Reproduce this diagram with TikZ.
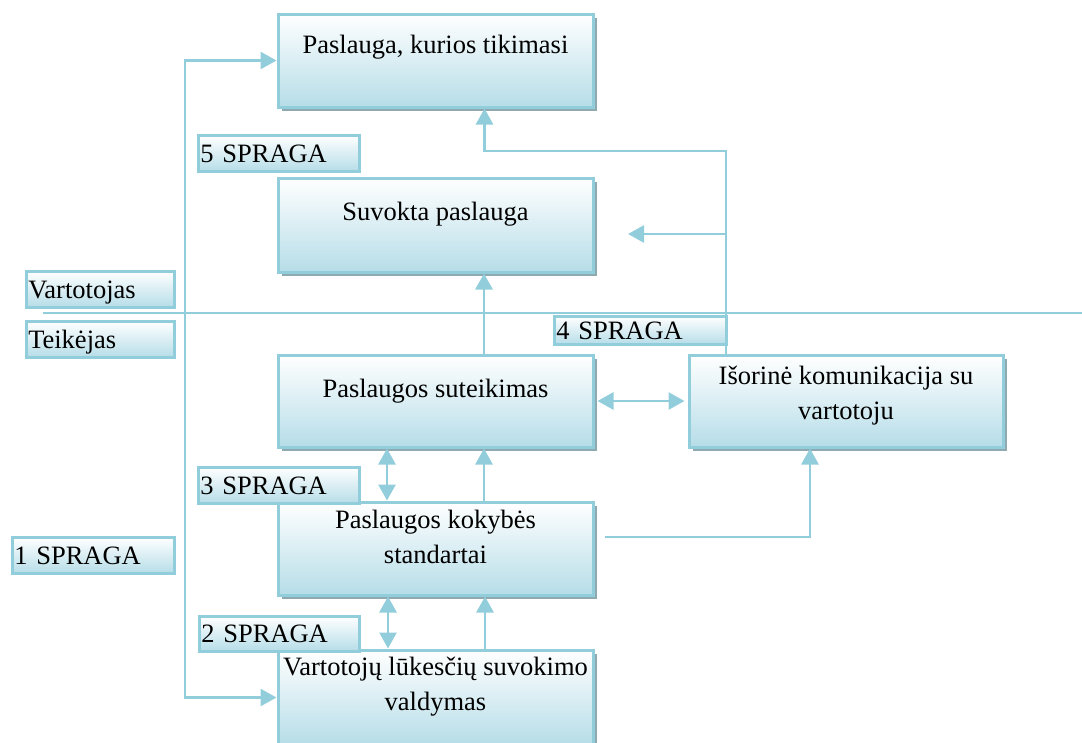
\documentclass[tikz,border=0pt]{standalone}
\usepackage{fontspec}
\setmainfont{Liberation Serif}
\usetikzlibrary{arrows.meta,shadows}
\definecolor{lineblue}{HTML}{92CDDC}
\definecolor{fillblue}{HTML}{B6DDE8}
\definecolor{shadowgray}{HTML}{8FA9B0}
\tikzset{
  mainbox/.style={draw=lineblue, line width=3pt, top color=white, bottom color=fillblue,
    minimum width=315pt, minimum height=93pt, inner sep=0pt,
    drop shadow={shadow xshift=4pt, shadow yshift=-4pt, fill=shadowgray, opacity=1}},
  boxtext/.style={anchor=base, inner sep=0pt, align=center,
    font=\fontsize{26.5pt}{35pt}\selectfont},
  lbl/.style={draw=lineblue, line width=2.5pt, top color=white, bottom color=fillblue,
    anchor=north west, inner xsep=2pt, inner ysep=0pt, align=left,
    text height=17.5pt, text depth=0pt, font=\fontsize{26.5pt}{35pt}\selectfont},
  conn/.style={draw=lineblue, line width=2.8pt},
  arr/.style={conn, -{Triangle[length=16pt,width=17pt]}},
  dbl/.style={conn, {Triangle[length=16pt,width=17pt]}-{Triangle[length=16pt,width=17pt]}}
}
\begin{document}
\begin{tikzpicture}[x=1pt,y=-1pt]
\useasboundingbox (0,0) rectangle (1082,742);
\clip (0,0) rectangle (1082,742);

% main boxes
\node[mainbox] (b1) at (435.5,60.5) {};
\node[mainbox, minimum height=94pt] (b2) at (435.5,225) {};
\node[mainbox, minimum height=92pt] (b3) at (435.5,401) {};
\node[mainbox, minimum width=314pt, minimum height=92pt] (b4) at (846,401) {};
\node[mainbox] (b5) at (435.5,548.5) {};
\node[mainbox, minimum height=95pt] (b6) at (435.5,697.5) {};

\node[boxtext] (t1) at (435.5,53) {Paslauga, kurios tikimasi};
\node[boxtext] (t2) at (435.5,220) {Suvokta paslauga};
\node[boxtext] (t3) at (435.5,397) {Paslaugos suteikimas};
\node[boxtext] (t4) at (846,419) {Išorinė komunikacija su\\vartotoju};
\node[boxtext] (t5) at (435.5,563) {Paslaugos kokybės\\standartai};
\node[boxtext] (t6) at (435.5,710) {Vartotojų lūkesčių suvokimo\\valdymas};

% label boxes
\node[lbl, minimum height=36pt, text width=144pt] (lv) at (25,270) {Vartotojas};
\node[lbl, minimum height=36pt, text width=144pt] (lt) at (25,320) {Teikėjas};
\node[lbl, minimum height=36pt, text width=157pt] (g5) at (197,134) {5 SPRAGA};
\node[lbl, minimum height=28pt, text width=168pt] (g4) at (553,315) {4 SPRAGA};
\node[lbl, minimum height=36pt, text width=157pt] (g3) at (197,466) {3 SPRAGA};
\node[lbl, minimum height=36pt, text width=158pt] (g1) at (11,536) {1 SPRAGA};
\node[lbl, minimum height=35pt, text width=156pt] (g2) at (198,615) {2 SPRAGA};

% coordinates
\coordinate (L) at (185,0);
\coordinate (H1) at (43,313);
\coordinate (H2) at (1082,313);
\coordinate (J1) at (726,151);
\coordinate (J2) at (726,234);
\coordinate (S2) at (628,234);
\coordinate (K1) at (605,537);

% connectors
\draw[conn] (H1) -- (H2);
\draw[dbl] (b1.west) -| (L |- b6.west) -- (b6.west);
\draw[arr] ([xshift=48.5pt]b3.north) -- ([xshift=48.5pt]b2.south);
\draw[arr] ([xshift=-120pt]b4.north) -- (J1) -| ([xshift=49pt]b1.south);
\draw[arr] (J2) -- (S2);
\draw[dbl, shorten <=3pt, shorten >=3pt] (b3.east) -- (b4.west);
\draw[dbl] ([xshift=-48.5pt]b5.north) -- ([xshift=-48.5pt]b3.south);
\draw[arr] ([xshift=48.5pt]b5.north) -- ([xshift=48.5pt]b3.south);
\draw[arr] (K1) -| ([xshift=-36pt]b4.south);
\draw[dbl] ([xshift=-47.5pt]b6.north) -- ([xshift=-47.5pt]b5.south);
\draw[arr] ([xshift=49.5pt]b6.north) -- ([xshift=49.5pt]b5.south);
\end{tikzpicture}
\end{document}
